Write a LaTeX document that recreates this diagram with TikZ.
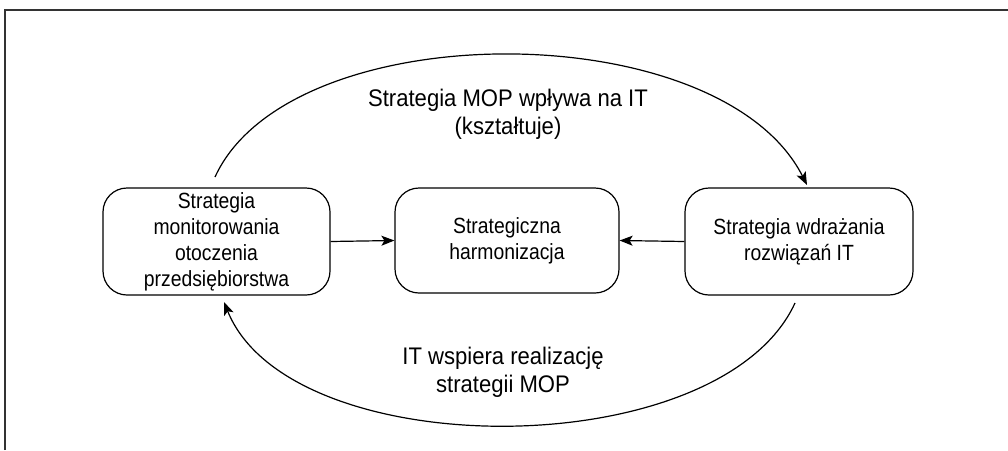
\documentclass[tikz,border=0pt]{standalone}
\usepackage{fontspec}
\setmainfont{Liberation Sans}
\newfontfamily\boxfont[FakeStretch=0.88]{Liberation Sans}
\newfontfamily\lblfont[FakeStretch=0.92]{Liberation Sans}
\usetikzlibrary{arrows.meta}
\begin{document}
\begin{tikzpicture}[x=1pt,y=-1pt,
  box/.style={draw, line width=1.2pt, rounded corners=24pt, align=center,
    font=\boxfont\fontsize{22}{26}\selectfont, inner sep=0pt},
  lbl/.style={align=center, font=\lblfont\fontsize{24}{28}\selectfont},
  link/.style={line width=1.2pt, -{Stealth[length=13pt,width=10pt,inset=3pt]}}]
\useasboundingbox (0,0) rectangle (1008,450);
% partial frame
\draw[line width=1.3pt, black!80] (5,450) -- (5,10) -- (1008,10);

% the three strategy boxes
\node[box, minimum width=227pt, minimum height=107pt] (L) at (216.5,241.5)
  {Strategia\\monitorowania\\otoczenia\\przedsiębiorstwa};
\node[box, minimum width=224pt, minimum height=105pt] (M) at (507,240.5)
  {Strategiczna\\harmonizacja};
\node[box, minimum width=228pt, minimum height=107pt] (R) at (799,241.5)
  {Strategia wdrażania\\rozwiązań IT};

% straight links into the centre box
\draw[link] (L.east) -- (M.west);
\draw[link] (R.west) -- (M.east);

% curved links
\coordinate (t0) at (215,177);
\coordinate (t1) at (807,185);
\coordinate (b0) at (795,303);
\coordinate (b1) at (224,302);
\draw[link] (t0) .. controls (290,13) and (720,13) .. (t1);
\draw[link] (b0) .. controls (720,466) and (290,466) .. (b1);

\node[lbl] (top) at (508,114) {Strategia MOP wpływa na IT\\(kształtuje)};
\node[lbl] (bot) at (503,372) {IT wspiera realizację\\strategii MOP};
\end{tikzpicture}
\end{document}
